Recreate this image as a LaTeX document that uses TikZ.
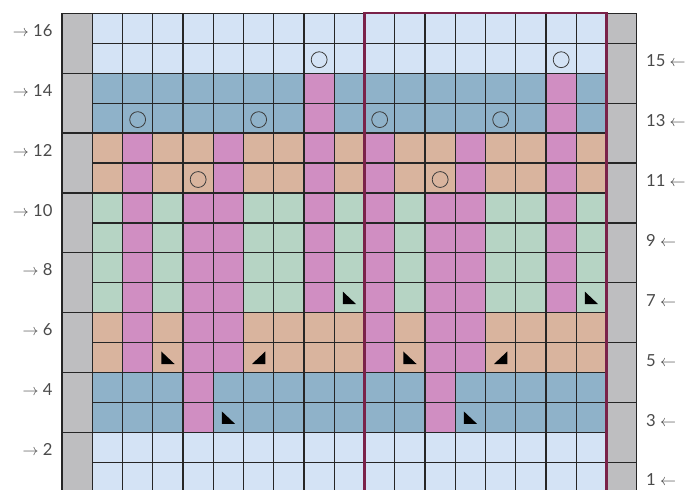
\documentclass[tikz,border=0pt]{standalone}
\usepackage{fontspec}
\setmainfont{Lato}
\usepackage{tikz}
\usetikzlibrary{positioning}
\definecolor{paleblue}{HTML}{D4E3F5}
\definecolor{steelblue}{HTML}{8FB2C9}
\definecolor{orchid}{HTML}{D08EC2}
\definecolor{tan}{HTML}{D9B49E}
\definecolor{mint}{HTML}{B6D4C4}
\definecolor{edgegray}{HTML}{BEBEC0}
\definecolor{gridline}{HTML}{262626}
\definecolor{repeatline}{HTML}{7A2249}
\definecolor{labelgray}{HTML}{4A4A4A}
\tikzset{
  gridlines/.style ={draw=gridline,line width=0.9pt},
  edgecol/.style   ={fill=edgegray},
  yarnover/.style  ={draw=gridline!90,line width=0.6pt},
  decrease/.style  ={fill=black},
  repeatbox/.style ={draw=repeatline,line width=1.6pt},
  rowlabel/.style  ={inner sep=0pt,text=labelgray,font=\fontsize{12.5}{14}\selectfont}
}

\begin{document}
\begin{tikzpicture}[x=0.8cm,y=0.7921cm]
    \useasboundingbox (-3.051,0.117) rectangle (19.726,16.444);
    \clip (-3.051,0.117) rectangle (19.726,16.444);
    % colour bands
    \foreach \lo/\hi/\col in {0/2/paleblue,2/4/steelblue,4/6/tan,6/10/mint,10/12/tan,12/14/steelblue,14/16/paleblue}
      \fill[\col] (0,\lo) rectangle (17,\hi);
    % contrast stitches
    \foreach \lo/\hi/\cols in {2/4/{3,11},4/6/{1,3,4,9,11,12},6/10/{1,3,4,7,9,11,12,15},10/12/{1,4,7,9,12,15},12/14/{7,15}}
      \foreach \k in \cols
        \fill[orchid] (\k,\lo) rectangle (\k+1,\hi);
    % edge stitches
    \fill[edgecol] (-1,0) rectangle (0,16);
    \fill[edgecol] (17,0) rectangle (18,16);
    \foreach \x in {0,...,17}
      \draw[gridlines] (\x,0) -- (\x,16);
    \foreach \y in {1,...,16}
      \draw[gridlines] (0,\y) -- (17,\y);
    \draw[gridlines] (-1,0) -- (-1,16) -- (0,16);
    \draw[gridlines] (18,0) -- (18,16) -- (17,16);
    \foreach \y in {0,2,...,14}
      \draw[gridlines] (-1,\y) -- (0,\y);
    \foreach \y in {1,3,...,15}
      \draw[gridlines] (17,\y) -- (18,\y);
    % yarn overs
    \foreach \k/\r in {7/15,15/15,1/13,5/13,9/13,13/13,3/11,11/11}
      \draw[yarnover] (\k+0.5,\r-0.55) circle[radius=0.21cm];
    % decreases
    \foreach \k/\r in {8/7,16/7,2/5,10/5,4/3,12/3}
      \fill[decrease] (\k+0.28,\r-0.29) -- (\k+0.28,\r-0.71) -- (\k+0.72,\r-0.71) -- cycle;
    \foreach \k/\r in {5/5,13/5}
      \fill[decrease] (\k+0.72,\r-0.29) -- (\k+0.72,\r-0.71) -- (\k+0.28,\r-0.71) -- cycle;
    % pattern repeat
    \draw[repeatbox] (9,-0.2) -- (9,16) -- (17,16) -- (17,-0.2);
    % row numbers
    \foreach \r in {2,4,...,16}
      \node[rowlabel,anchor=base east] (ws\r) at (-1.31,\r-0.77) {$\rightarrow$ \r};
    \foreach \r in {1,3,...,15}
      \node[rowlabel,anchor=base west] (rs\r) at (18.30,\r-0.78) {\r\ $\leftarrow$};
  \end{tikzpicture}
\end{document}
